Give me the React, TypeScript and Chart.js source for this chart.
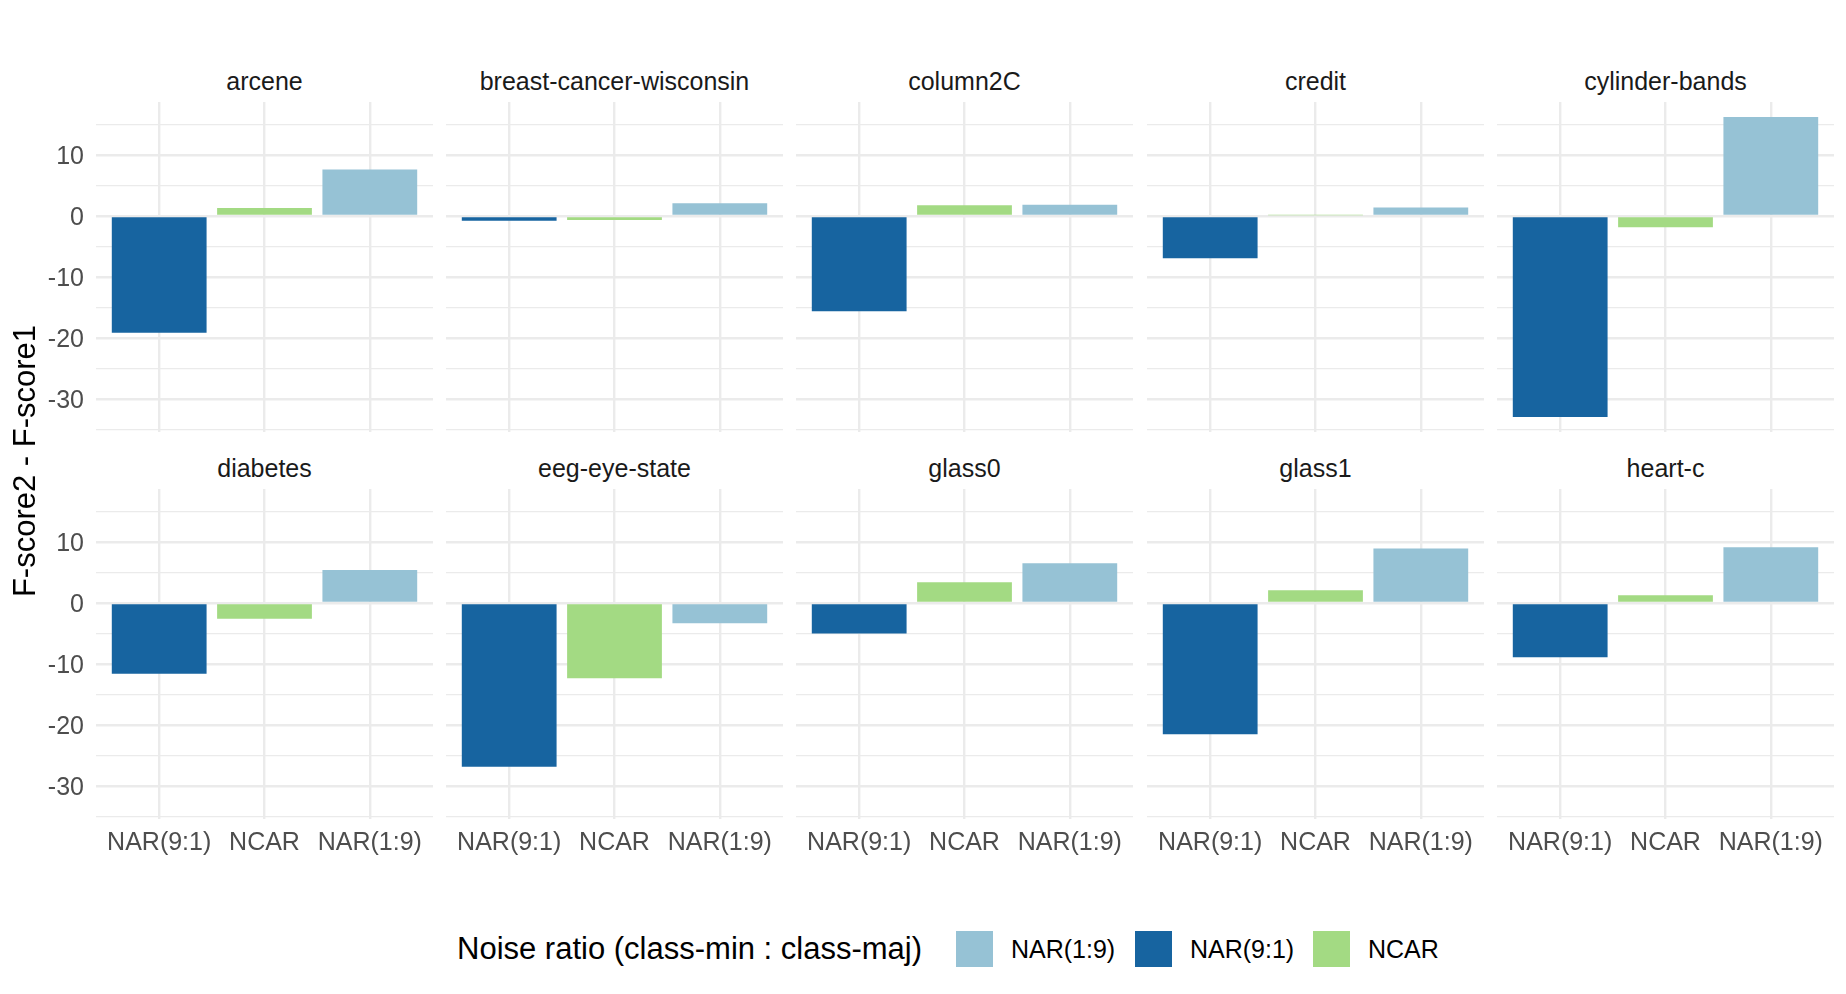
import { useEffect, useRef } from "react";
import { Chart, registerables, type ChartConfiguration } from "chart.js";

Chart.register(...registerables);

const datasetNames = [
  "arcene",
  "breast-cancer-wisconsin",
  "column2C",
  "credit",
  "cylinder-bands",
  "diabetes",
  "eeg-eye-state",
  "glass0",
  "glass1",
  "heart-c",
];

const categories = ["NAR(9:1)", "NCAR", "NAR(1:9)"];

// F-score2 - F-score1 per dataset, one array per noise ratio
const nar91Values = [-19.1, -0.8, -15.6, -6.9, -32.9, -11.6, -26.8, -5.0, -21.5, -8.9];
const ncarValues = [1.3, -0.65, 1.75, 0.1, -1.85, -2.6, -12.3, 3.4, 2.1, 1.25];
const nar19Values = [7.6, 2.1, 1.85, 1.4, 16.2, 5.4, -3.3, 6.5, 8.9, 9.1];

const yTicks = [-35, -30, -25, -20, -15, -10, -5, 0, 5, 10, 15];
const yLabelTicks = [-30, -20, -10, 0, 10];

const legendItems = [
  { label: "NAR(1:9)", color: "#96C2D5" },
  { label: "NAR(9:1)", color: "#1764A0" },
  { label: "NCAR", color: "#A3DA83" },
];

const barColors = ["#1764A0", "#A3DA83", "#96C2D5"];

const FONT = "'Liberation Sans', Arial, Helvetica, sans-serif";
const PANEL_LEFT = [96, 446, 796, 1147, 1497];
const PANEL_W = 337;
const ROW_TOP = [102, 489];
const PANEL_H = 330;
const X_AXIS_H = 60;
const GRID = "#EBEBEB";

function Panel({ index }: { index: number }) {
  const canvasRef = useRef<HTMLCanvasElement | null>(null);
  const row = Math.floor(index / 5);
  const col = index % 5;
  const leftAxis = col === 0 ? PANEL_LEFT[0] : 0;
  const bottomAxis = row === 1 ? X_AXIS_H : 0;

  useEffect(() => {
    const canvas = canvasRef.current;
    if (!canvas) return;
    const values = [nar91Values[index], ncarValues[index], nar19Values[index]];

    const config: ChartConfiguration<"bar"> = {
      type: "bar",
      data: {
        datasets: [
          {
            data: values.map((v, i) => ({ x: i + 1, y: v })) as any,
            backgroundColor: barColors,
            borderWidth: 0,
            categoryPercentage: 0.9,
            barPercentage: 1,
          },
        ],
      },
      options: {
        responsive: true,
        maintainAspectRatio: false,
        animation: false,
        layout: { padding: 0 },
        plugins: { legend: { display: false }, tooltip: { enabled: false }, title: { display: false } },
        scales: {
          x: {
            type: "linear",
            min: 0.4,
            max: 3.6,
            offset: false,
            afterBuildTicks: (axis) => {
              axis.ticks = [1, 2, 3].map((v) => ({ value: v }));
            },
            afterFit: (scale) => {
              scale.height = bottomAxis;
              scale.paddingLeft = 0;
              scale.paddingRight = 0;
            },
            grid: { color: GRID, lineWidth: 2.4, offset: false, drawTicks: false },
            border: { display: false },
            ticks: {
              display: row === 1,
              autoSkip: false,
              maxRotation: 0,
              minRotation: 0,
              padding: 9,
              color: "#4D4D4D",
              font: { family: FONT, size: 25 },
              callback: (value) => categories[Number(value) - 1] ?? "",
            },
          },
          y: {
            type: "linear",
            min: -35.35,
            max: 18.65,
            afterBuildTicks: (axis) => {
              axis.ticks = yTicks.map((v) => ({ value: v }));
            },
            afterFit: (scale) => {
              scale.width = leftAxis;
              scale.paddingTop = 0;
              scale.paddingBottom = 0;
            },
            grid: {
              color: GRID,
              drawTicks: false,
              lineWidth: (ctx) => (ctx.tick && ctx.tick.value % 10 === 0 ? 2.4 : 1.2),
            },
            border: { display: false },
            ticks: {
              display: col === 0,
              autoSkip: false,
              padding: 12,
              labelOffset: 2,
              color: "#4D4D4D",
              font: { family: FONT, size: 25 },
              callback: (value) => (yLabelTicks.includes(Number(value)) ? String(value) : ""),
            },
          },
        },
      },
    };

    const chart = new Chart(canvas, config);
    return () => chart.destroy();
  }, [index, leftAxis, bottomAxis, row, col]);

  return (
    <>
      <div
        style={{
          position: "absolute",
          left: PANEL_LEFT[col],
          top: ROW_TOP[row] - 36,
          width: PANEL_W,
          height: 30,
          lineHeight: "30px",
          textAlign: "center",
          fontFamily: FONT,
          fontSize: 25,
          color: "#1A1A1A",
          whiteSpace: "nowrap",
        }}
      >
        {datasetNames[index]}
      </div>
      <div
        style={{
          position: "absolute",
          left: PANEL_LEFT[col] - leftAxis,
          top: ROW_TOP[row],
          width: PANEL_W + leftAxis,
          height: PANEL_H + bottomAxis,
        }}
      >
        <canvas ref={canvasRef} />
      </div>
    </>
  );
}

export default function App() {
  return (
    <div
      style={{
        position: "absolute",
        left: 0,
        top: 0,
        width: 1846,
        height: 994,
        background: "#ffffff",
        overflow: "hidden",
        fontFamily: FONT,
      }}
    >
      {datasetNames.map((_, i) => (
        <Panel key={i} index={i} />
      ))}
      <div
        style={{
          position: "absolute",
          left: 24.5 - 200,
          top: 461 - 20,
          width: 400,
          height: 40,
          lineHeight: "40px",
          textAlign: "center",
          fontSize: 31,
          color: "#000000",
          transform: "rotate(-90deg)",
          whiteSpace: "nowrap",
        }}
      >
        F-score2 - F-score1
      </div>
      <div
        style={{
          position: "absolute",
          left: 457,
          top: 949 - 20,
          height: 40,
          lineHeight: "40px",
          fontSize: 31,
          color: "#000000",
          whiteSpace: "nowrap",
        }}
      >
        Noise ratio (class-min : class-maj)
      </div>
      {legendItems.map((item, i) => {
        const boxLeft = [956, 1135, 1313][i];
        return (
          <div key={item.label}>
            <div
              style={{
                position: "absolute",
                left: boxLeft,
                top: 931,
                width: 37,
                height: 36,
                background: item.color,
              }}
            />
            <div
              style={{
                position: "absolute",
                left: boxLeft + 55,
                top: 949 - 15,
                height: 30,
                lineHeight: "30px",
                fontSize: 25,
                color: "#000000",
                whiteSpace: "nowrap",
              }}
            >
              {item.label}
            </div>
          </div>
        );
      })}
    </div>
  );
}
